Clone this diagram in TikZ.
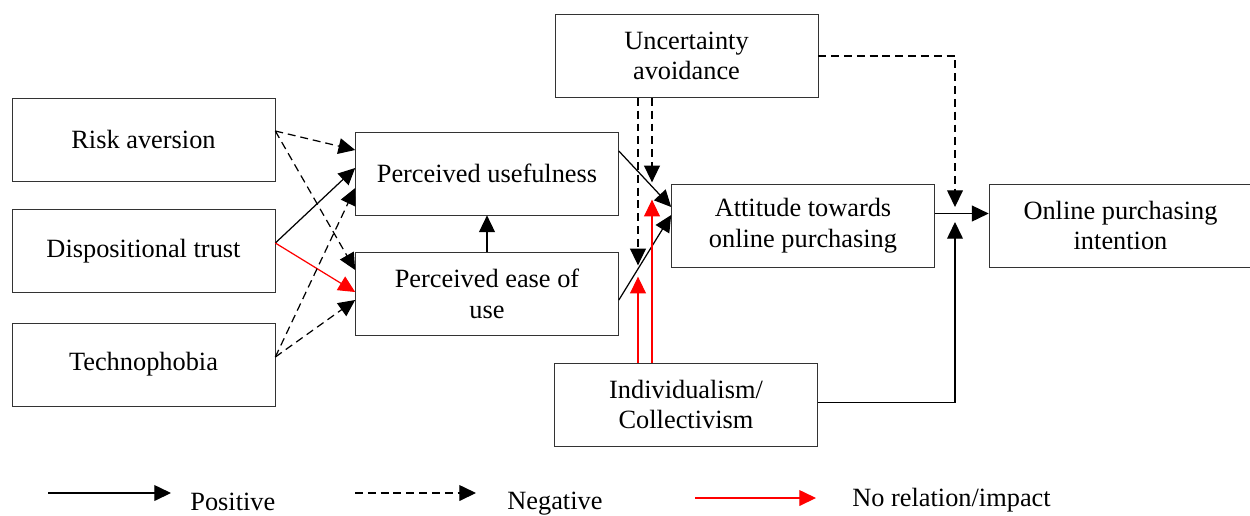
\documentclass[tikz,border=0pt]{standalone}
\usepackage{fontspec}
\setmainfont{Liberation Serif}
\usepackage{tikz}
\usetikzlibrary{arrows.meta,calc}

\tikzset{
	box/.style={draw=black!80, minimum width=5.26cm, minimum height=1.66cm, align=center, inner sep=2pt},
	posline/.style={draw, line width=0.7pt, -{Triangle[length=9.5pt,width=9pt]}},
	negline/.style={posline, dash pattern=on 4.5pt off 2.8pt},
	nulline/.style={posline, red}
}

\begin{document}
\begin{tikzpicture}[x=0.02cm, y=-0.02cm, font=\fontsize{15}{17.5}\selectfont]
					\clip (0,0) rectangle (1250,515);
					
					\node[box] (risk) at (143.5, 139.5) {Risk aversion};
					\node[box] (trust) at (143.5, 251) {Dispositional trust};
					\node[box] (techno) at (143.5, 364.5) {Technophobia};
					
					\node[box] (pu) at (487, 173.5) {Perceived usefulness};
					\node[box] (peou) at (487, 294) {Perceived ease of\\use};
					
					\node[box] (ua) at (686.5, 56) {Uncertainty\\avoidance};
					\node[box] (att) at (803, 225.5) {Attitude towards\\online purchasing};
					\node[box] (ic) at (686, 404.5) {Individualism/\\Collectivism};
					\node[box] (opi) at (1120.5, 225.5) {Online purchasing\\intention};
					
					\coordinate (j1) at (955, 207);
					\coordinate (j2) at (955, 222);
					
					% antecedents
					\draw[negline] ($(risk.east)+(0,-8.5)$) -- ($(pu.west)+(0,-23.5)$);
					\draw[negline] ($(risk.east)+(0,-8.5)$) -- ($(peou.west)+(0,-24)$);
					\draw[posline] ($(trust.east)+(0,-8)$) -- ($(pu.west)+(0,-5.5)$);
					\draw[nulline] ($(trust.east)+(0,-8)$) -- ($(peou.west)+(0,-2)$);
					\draw[negline] ($(techno.east)+(0,-7.5)$) -- ($(pu.west)+(0,14.5)$);
					\draw[negline] ($(techno.east)+(0,-7.5)$) -- ($(peou.west)+(0,6)$);
					
					\draw[posline] (peou.north) -- (pu.south);
					\draw[posline] ($(pu.east)+(0,-22.5)$) -- ($(att.west)+(0,-18.5)$);
					\draw[posline] ($(peou.east)+(0,6)$) -- ($(att.west)+(0,-10.5)$);
					
					% moderators
					\draw[negline] ($(ua.south)+(-34.5,0)$) -- ($(ua.south)+(-34.5,84.5)$);
					\draw[negline] ($(ua.south)+(-48.5,0)$) -- ($(ua.south)+(-48.5,167.5)$);
					\draw[nulline] ($(ic.north)+(-48,0)$) -- ($(ic.north)+(-48,-86)$);
					\draw[nulline] ($(ic.north)+(-34,0)$) -- ($(ic.north)+(-34,-163)$);
					
					\draw[negline] (ua.east) -| (j1);
					\draw[posline] ($(ic.east)+(0,-2)$) -| (j2);
					\draw[posline] ($(att.east)+(0,-12)$) -- ($(opi.west)+(0,-12)$);
					
					% legend
					\coordinate (l1) at (48, 493);
					\coordinate (l2) at (355, 493);
					\coordinate (l3) at (695, 498);
					\draw[posline] (l1) -- ++(123, 0);
					\draw[negline] (l2) -- ++(121, 0);
					\draw[nulline] (l3) -- ++(121, 0);
					\node[anchor=base west, inner sep=0pt] (lpos) at (190, 510) {Positive};
					\node[anchor=base west, inner sep=0pt] (lneg) at (507, 509) {Negative};
					\node[anchor=base west, inner sep=0pt] (lnul) at (852, 506) {No relation/impact};
					
				\end{tikzpicture}
\end{document}
